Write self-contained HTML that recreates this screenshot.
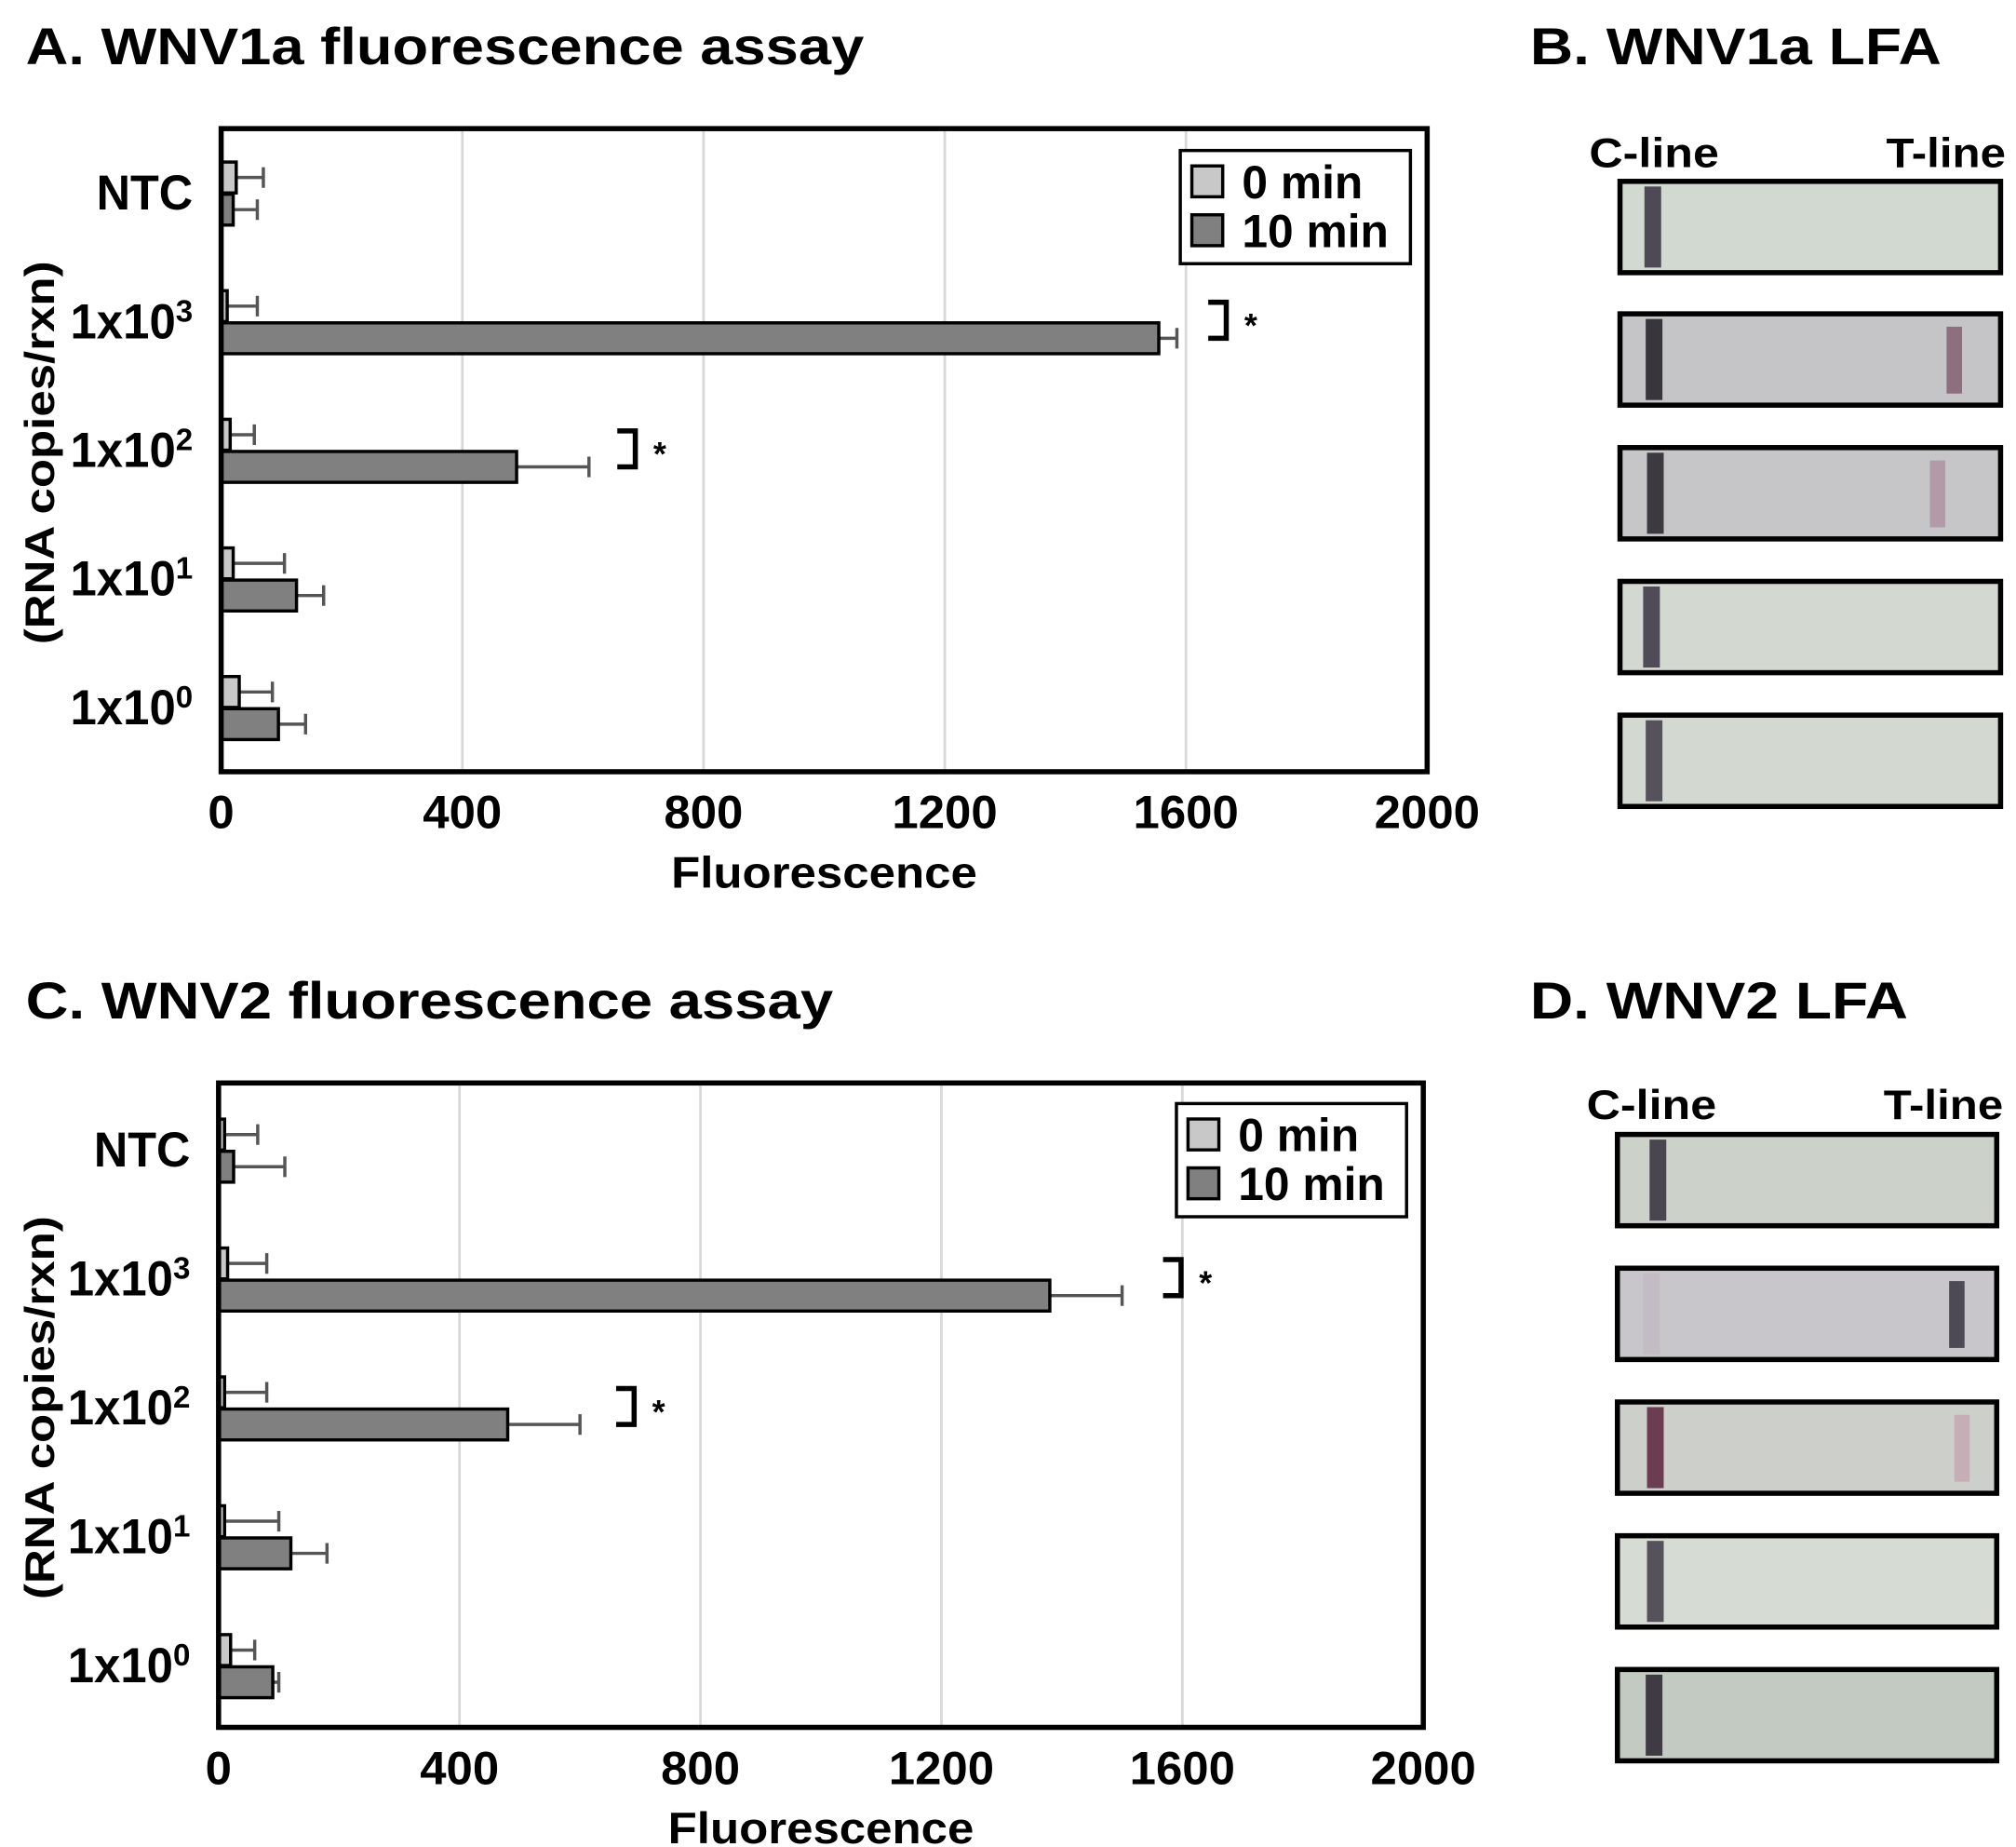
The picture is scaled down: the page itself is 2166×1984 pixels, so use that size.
<!DOCTYPE html>
<html><head><meta charset="utf-8"><style>
html,body{margin:0;padding:0;background:#fff;}
svg{display:block;}
text{font-family:"Liberation Sans",Arial,sans-serif;font-weight:bold;fill:#000;}
</style></head><body>
<svg id="fig" width="2166" height="1984" viewBox="0 0 1568 1436" preserveAspectRatio="none" xmlns="http://www.w3.org/2000/svg">
<text x="20" y="50" font-size="40" textLength="652" lengthAdjust="spacingAndGlyphs">A. WNV1a fluorescence assay</text>
<text x="1190" y="50" font-size="40" textLength="320" lengthAdjust="spacingAndGlyphs">B. WNV1a LFA</text>
<text x="20" y="792" font-size="40" textLength="628" lengthAdjust="spacingAndGlyphs">C. WNV2 fluorescence assay</text>
<text x="1190" y="792" font-size="40" textLength="294" lengthAdjust="spacingAndGlyphs">D. WNV2 LFA</text>
<g id="chartA"></g>
<g id="chartC"></g>
<g id="lfaB"></g>
<g id="lfaD"></g>
</svg>
<script>
const categories = ["NTC", "1x10³", "1x10²", "1x10¹", "1x10⁰"];
const ticks = [0, 400, 800, 1200, 1600, 2000];
const aMin0 = [25, 10, 15, 20, 30];
const aMin0Err = [70, 60, 55, 105, 85];
const aMin10 = [20, 1555, 490, 125, 95];
const aMin10Err = [60, 1585, 610, 170, 140];
const aSig = [null, 1637, 657, null, null];
const cMin0 = [10, 15, 10, 10, 20];
const cMin0Err = [65, 80, 80, 100, 60];
const cMin10 = [25, 1380, 480, 120, 90];
const cMin10Err = [110, 1500, 600, 180, 100];
const cSig = [null, 1568, 660, null, null];

const NS = "http://www.w3.org/2000/svg";
function mk(parent, tag, attrs, txt){
  const e = document.createElementNS(NS, tag);
  for (const k in attrs) e.setAttribute(k, attrs[k]);
  if (txt !== undefined) e.textContent = txt;
  parent.appendChild(e); return e;
}
function chart(g, box, v0, e0, v10, e10, sig, leg, catY){
  const x = v => box.x0 + (v/2000)*(box.x1-box.x0);
  ticks.forEach(t=>{
    if (t>0 && t<2000){
      const l = mk(g,'line',{x1:x(t),x2:x(t),y1:box.y0,y2:box.y1,stroke:'#d8d8d8','stroke-width':2});
      
      
    }
    const tl = mk(g,'text',{x:x(t),y:box.y1+44,'font-size':36,'text-anchor':'middle',textLength:String(t).length*20.5,lengthAdjust:'spacingAndGlyphs'},t);
    
    
  });
  const step = (box.y1-box.y0)/5;
  categories.forEach((c,i)=>{
    const cy = box.y0 + step*(i+0.5) + catY;
    const base = c.replace(/[³²¹⁰]/,''); const sup = c.slice(base.length);
    const lab = mk(g,'text',{x:box.x0-22,y:cy+13,'font-size':38,'text-anchor':'end'});
    
    
    if (sup){
      mk(lab,'tspan',{textLength:82,lengthAdjust:'spacingAndGlyphs'},base);
      mk(lab,'tspan',{'font-size':24,dy:-13},({'³':'3','²':'2','¹':'1','⁰':'0'})[sup]);
    } else {
      mk(lab,'tspan',{textLength:75,lengthAdjust:'spacingAndGlyphs'},base);
    }
    const rows = [[v0[i],e0[i],cy-24,'#c8c8c8','bar-0min'],[v10[i],e10[i],cy+1,'#808080','bar-10min']];
    rows.forEach(r=>{
      const eb = mk(g,'path',{d:`M${x(r[0])} ${r[2]+12}H${x(r[1])}M${x(r[1])} ${r[2]+4}V${r[2]+20}`,stroke:'#555',fill:'none','stroke-width':2.5});
      
      
      const b = mk(g,'rect',{x:box.x0,y:r[2],width:x(r[0])-box.x0,height:24,fill:r[3],stroke:'#000','stroke-width':2.5});
      
      
    });
    if (sig[i]!==null){
      const sx = x(sig[i]);
      const br = mk(g,'path',{d:`M${sx} ${cy-15}H${sx+14}V${cy+13}H${sx}`,stroke:'#000',fill:'none','stroke-width':4});
      
      
      const st = mk(g,'text',{x:sx+28,y:cy+12,'font-size':26},'*');
      
      
    }
  });
  const fr = mk(g,'rect',{x:box.x0,y:box.y0,width:box.x1-box.x0,height:box.y1-box.y0,fill:'none',stroke:'#000','stroke-width':4});
  
  
  const xt = mk(g,'text',{x:(box.x0+box.x1)/2,y:box.y1+90,'font-size':34,'text-anchor':'middle',textLength:238,lengthAdjust:'spacingAndGlyphs'},'Fluorescence');
  
  
  const yc = (box.y0+box.y1)/2+2;
  const yt = mk(g,'text',{x:0,y:0,'font-size':32,'text-anchor':'middle',transform:`translate(42 ${yc}) rotate(-90)`,textLength:298,lengthAdjust:'spacingAndGlyphs'},'(RNA copies/rxn)');
  
  
  const lg = mk(g,'g',{});
  
  
  mk(lg,'rect',{x:leg.x,y:leg.y,width:179,height:88,fill:'#fff',stroke:'#000','stroke-width':2.5});
  [['0 min','#c8c8c8',0],['10 min','#808080',1]].forEach(l=>{
    const yy = leg.y+12+l[2]*38;
    const sw = mk(lg,'rect',{x:leg.x+9,y:yy,width:24,height:24,fill:l[1],stroke:'#000','stroke-width':2.5});
    
    
    const tx = mk(lg,'text',{x:leg.x+48,y:yy+25,'font-size':36},l[0]);
    
    
  });
}
chart(document.getElementById('chartA'),{x0:172,x1:1110,y0:100,y1:600},aMin0,aMin0Err,aMin10,aMin10Err,aSig,{x:918,y:117},0);
chart(document.getElementById('chartC'),{x0:170,x1:1107,y0:842,y1:1343},cMin0,cMin0Err,cMin10,cMin10Err,cSig,{x:915,y:858},2);

function lfa(g, x0, w, labY, ys, strips){
  const cl = mk(g,'text',{x:x0-24,y:labY,'font-size':32,textLength:101,lengthAdjust:'spacingAndGlyphs'},'C-line');
  
  
  const tl = mk(g,'text',{x:x0+207,y:labY,'font-size':32,textLength:93,lengthAdjust:'spacingAndGlyphs'},'T-line');
  
  
  ys.forEach((y,i)=>{
    const s = strips[i];
    const sg = mk(g,'g',{});
    
    
    mk(sg,'rect',{x:x0,y:y,width:w,height:71,fill:s.bg});
    mk(sg,'rect',{x:x0+s.cx,y:y+4,width:13,height:63,fill:s.c});
    if (s.t) mk(sg,'rect',{x:x0+s.tx,y:y+10,width:12,height:52,fill:s.t});
    mk(sg,'rect',{x:x0,y:y,width:w,height:71,fill:'none',stroke:'#000','stroke-width':4});
  });
}
lfa(document.getElementById('lfaB'),1260,296,130,[141,244,348,452,556],[
 {bg:'#d2d9d1',c:'#4e4a55',cx:19},
 {bg:'#c5c5c7',c:'#38353c',cx:20,t:'#8d6f80',tx:254},
 {bg:'#c6c6c8',c:'#3c3940',cx:21,t:'#b29aa8',tx:241},
 {bg:'#d3d9d1',c:'#4f4c57',cx:18},
 {bg:'#d3d9d1',c:'#55525b',cx:20}]);
lfa(document.getElementById('lfaD'),1258,295,870,[882,986,1090,1194,1298],[
 {bg:'#ccd1ca',c:'#4a4650',cx:25},
 {bg:'#c8c6ca',c:'#c3bcc4',cx:20,t:'#4e4a55',tx:258},
 {bg:'#cdcfca',c:'#6c3d50',cx:23,t:'#c5aeb6',tx:262},
 {bg:'#d6dbd3',c:'#55525c',cx:23},
 {bg:'#c3cac1',c:'#3f3a44',cx:22}]);
</script>
</body></html>
